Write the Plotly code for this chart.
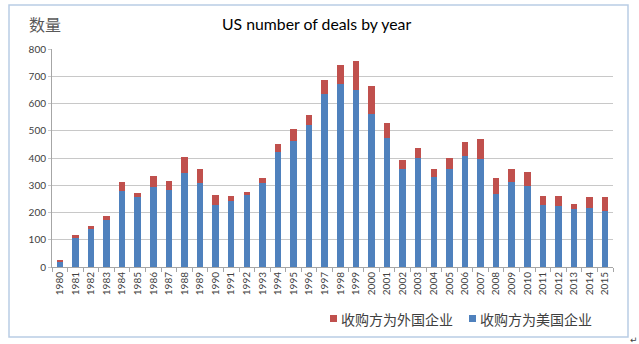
import plotly.graph_objects as go

years = [str(y) for y in range(1980, 2016)]
us_buyer = [20, 107, 140, 173, 279, 257, 295, 283, 346, 307,
            229, 243, 263, 308, 421, 462, 520, 634, 672, 650,
            563, 474, 360, 400, 332, 360, 407, 395, 268, 312,
            296, 228, 224, 213, 218, 205]
total = [26, 118, 150, 188, 313, 271, 333, 317, 402, 358,
         263, 261, 276, 327, 451, 505, 556, 687, 743, 757,
         666, 530, 393, 437, 358, 400, 458, 468, 326, 358,
         350, 262, 261, 233, 256, 256]
foreign_buyer = [t - u for t, u in zip(total, us_buyer)]

name_foreign = "收购方为外国企业"
name_us = "收购方为美国企业"
title_text = "US number of deals by year"
ylabel_text = "数量"

BLUE = "#4F81BD"
RED = "#C0504D"
FONT = "Lato, 'Liberation Sans', sans-serif"
CJK = "'Noto Sans CJK SC', sans-serif"

fig = go.Figure()
fig.add_trace(go.Bar(x=years, y=us_buyer, name=name_us,
                     marker=dict(color=BLUE, line=dict(width=0))))
fig.add_trace(go.Bar(x=years, y=foreign_buyer, name=name_foreign,
                     marker=dict(color=RED, line=dict(width=0))))

L, R, T, B = 52, 26, 49, 77
W, H = 639, 344
pw = W - L - R
ph = H - T - B

def px(x):
    return (x - L) / pw

def py(y):
    return (H - B - y) / ph

annotations = [
    dict(text=title_text, x=px(316), y=py(24), xref="paper", yref="paper",
         showarrow=False, xanchor="center", yanchor="middle",
         font=dict(family=FONT, size=15.8, color="#000000")),
    dict(text=ylabel_text, x=px(27), y=py(24), xref="paper", yref="paper",
         showarrow=False, xanchor="left", yanchor="middle",
         font=dict(family=CJK, size=16, color="#595959")),
    dict(text="↵", x=px(634), y=py(340), xref="paper", yref="paper",
         showarrow=False, xanchor="center", yanchor="middle",
         font=dict(family="DejaVu Sans", size=9, color="#404040")),
]
shapes = [
    dict(type="rect", xref="paper", yref="paper",
         x0=px(9), x1=px(628), y0=py(337), y1=py(5),
         line=dict(color="#B9CDE5", width=1.5), fillcolor="rgba(0,0,0,0)"),
]

# custom legend (squares + text)
legend_items = [(name_foreign, RED, 330), (name_us, BLUE, 469)]
for name, color, x0 in legend_items:
    shapes.append(dict(type="rect", xref="paper", yref="paper",
                       x0=px(x0), x1=px(x0 + 7), y0=py(322), y1=py(315),
                       line=dict(width=0), fillcolor=color))
    annotations.append(dict(text=name, x=px(x0 + 9), y=py(318.5), xref="paper", yref="paper",
                            showarrow=False, xanchor="left", yanchor="middle",
                            font=dict(family=CJK, size=14, color="#404040")))

fig.update_layout(
    width=W, height=H,
    margin=dict(l=L, r=R, t=T, b=B, pad=0, autoexpand=False),
    paper_bgcolor="white", plot_bgcolor="white",
    barmode="stack", bargap=0.58,
    font=dict(family=FONT, color="#404040"),
    showlegend=False,
    xaxis=dict(type="category", tickangle=-90, tickfont=dict(size=10, color="#404040"),
               showline=True, linecolor="#A6A6A6", linewidth=1,
               ticks="outside", ticklen=4, tickcolor="#A6A6A6", tickson="boundaries",
               showgrid=False, automargin=False),
    yaxis=dict(range=[0, 800], dtick=100, tickfont=dict(size=10, color="#404040"),
               showgrid=True, gridcolor="#C8C8C8", gridwidth=1,
               showline=True, linecolor="#A6A6A6", linewidth=1,
               ticks="outside", ticklen=3, tickcolor="#C8C8C8",
               zeroline=False, automargin=False),
    annotations=annotations,
    shapes=shapes,
)

fig.write_html("out.html")
